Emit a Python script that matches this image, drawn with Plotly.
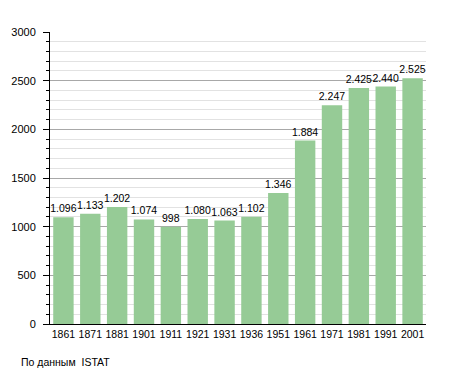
import plotly.graph_objects as go

years = ["1861", "1871", "1881", "1901", "1911", "1921", "1931", "1936", "1951", "1961", "1971", "1981", "1991", "2001"]
population = [1096, 1133, 1202, 1074, 998, 1080, 1063, 1102, 1346, 1884, 2247, 2425, 2440, 2525]
labels = [f"{v:,}".replace(",", ".") for v in population]

# page body has an 8px offset; plot area targeted at x 50..426, y 32..324 on screen
OFF = 8
W, H = 455, 373
L, R, T, B = 50 - OFF, W - (426 - OFF), 32 - OFF, H - (324 - OFF)

fig = go.Figure(go.Bar(
    x=years, y=population, text=labels, textposition="outside",
    textangle=0, constraintext="none",
    textfont=dict(size=10.5, color="black", family="Liberation Sans, Arial"),
    marker=dict(color="#96cb96", line=dict(width=0)),
    cliponaxis=False,
))

fig.update_layout(
    width=W, height=H,
    margin=dict(l=L, r=R, t=T, b=B),
    paper_bgcolor="white", plot_bgcolor="white",
    bargap=0.24,
    showlegend=False,
    font=dict(family="Liberation Sans, Arial", size=11, color="black"),
    annotations=[dict(text="По данным  ISTAT", xref="paper", yref="paper",
                      x=(19 - 50) / (426 - 50), y=-(362 - 324) / (324 - 32),
                      showarrow=False, xanchor="left", yanchor="middle",
                      font=dict(size=10.5, color="black"))],
)

fig.update_xaxes(type="category", showline=True, linecolor="black", linewidth=1,
                 ticks="", showgrid=False, tickfont=dict(size=10.5), tickangle=0,
                 automargin=False)
fig.update_yaxes(range=[0, 3000], dtick=500, showline=True, linecolor="black", linewidth=1,
                 ticks="outside", ticklen=6, tickcolor="black", ticklabelstandoff=5,
                 showgrid=True, gridcolor="#a8a8a8", gridwidth=1,
                 zeroline=False, tickfont=dict(size=11), automargin=False,
                 minor=dict(dtick=100, showgrid=True, gridcolor="#e2e2e2",
                            ticks="outside", ticklen=3, tickcolor="black"))

fig.write_html("out.html")
